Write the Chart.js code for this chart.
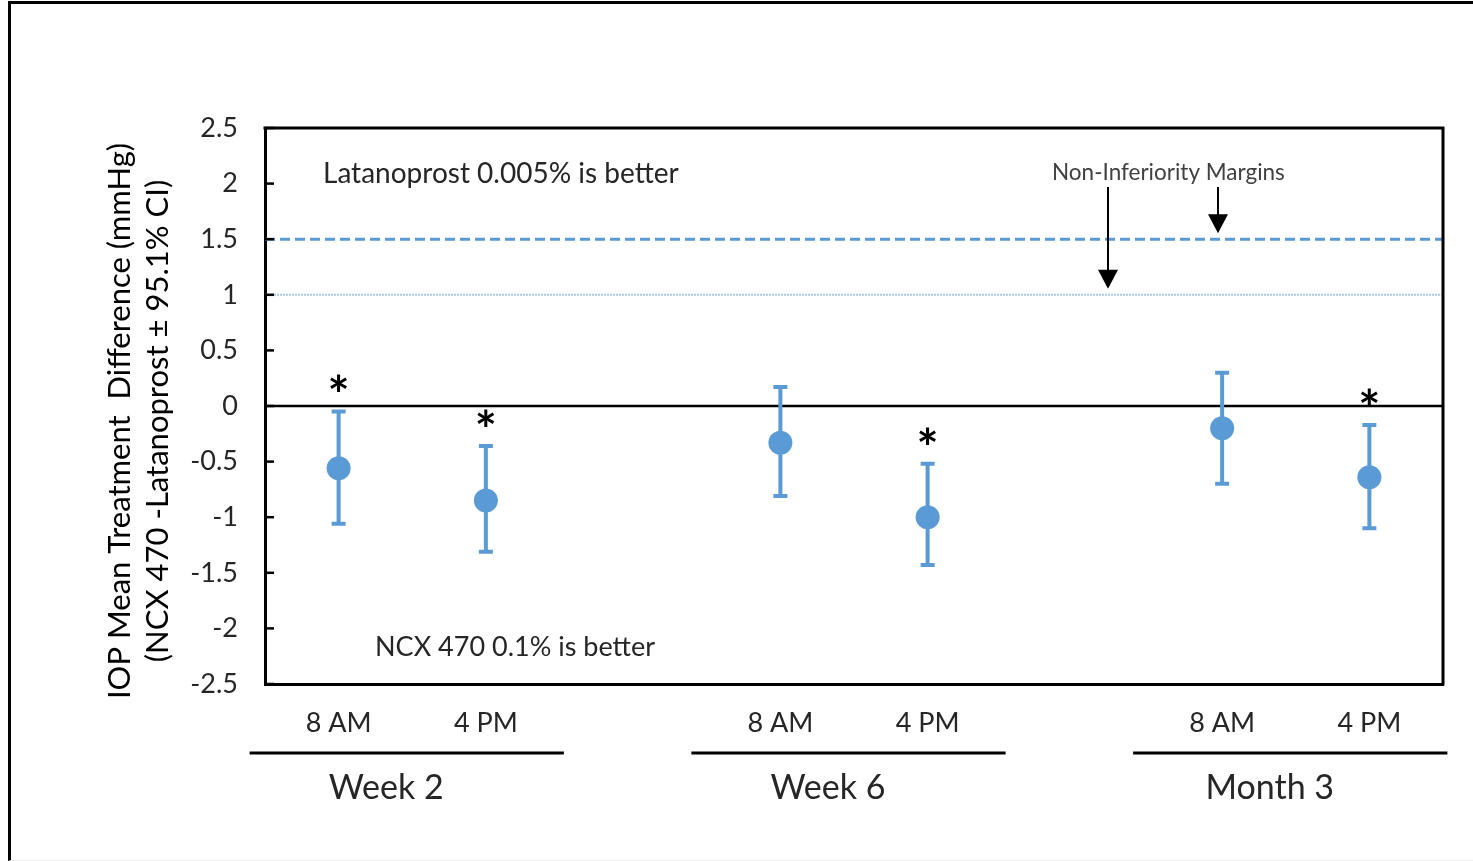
<!DOCTYPE html>
<html>
<head>
<meta charset="utf-8">
<script src="https://cdn.jsdelivr.net/npm/chart.js@4"></script>
<style>
    html, body { margin: 0; padding: 0; background: #fff; }
    .wrap { position: relative; width: 1473px; height: 861px; overflow: hidden; }
    .frame { position: absolute; left: 8px; top: 1px; right: -10px; bottom: 0; border-left: 3px solid #000; border-top: 3px solid #000; border-bottom: 1px solid #eee; pointer-events: none; }
    canvas { position: absolute; left: 0; top: 0; }
</style>
</head>
<body>
<div class="wrap">
    <canvas id="chart" width="1473" height="861"></canvas>
    <div class="frame"></div>
</div>
<script>
const categories = ['8 AM', '4 PM', '', '8 AM', '4 PM', '', '8 AM', '4 PM'];
const meanDiff = [-0.56, -0.85, null, -0.33, -1.00, null, -0.20, -0.64];
const ciUpper = [-0.05, -0.36, null, 0.17, -0.52, null, 0.30, -0.17];
const ciLower = [-1.06, -1.31, null, -0.81, -1.43, null, -0.70, -1.10];
const significant = [true, true, false, false, true, false, false, true];
const groupLabels = ['Week 2', 'Week 6', 'Month 3'];
const groupStart = [0, 3, 6];
const marginLines = [1.5, 1.0];
const yMin = -2.5, yMax = 2.5, yStep = 0.5;
const yTitle = ['IOP Mean Treatment  Difference (mmHg)', '(NCX 470 -Latanoprost \u00b1 95.1% CI)'];

const FONT = 'Lato, "Open Sans", sans-serif';
const BLUE = '#5B9BD5';
const TEXT = '#262626';

const overlay = {
    id: 'overlay',
    beforeDatasetsDraw(chart) {
        const { ctx, chartArea: a, scales: { x, y } } = chart;
        ctx.save();
        // non-inferiority margins
        ctx.lineWidth = 3;
        ctx.strokeStyle = BLUE;
        ctx.setLineDash([10, 5]);
        let py = y.getPixelForValue(marginLines[0]);
        ctx.beginPath(); ctx.moveTo(a.left, py); ctx.lineTo(a.right, py); ctx.stroke();
        ctx.lineWidth = 2;
        ctx.strokeStyle = '#A9CBEA';
        ctx.setLineDash([2, 1]);
        py = y.getPixelForValue(marginLines[1]);
        ctx.beginPath(); ctx.moveTo(a.left, py); ctx.lineTo(a.right, py); ctx.stroke();
        ctx.setLineDash([]);
        // zero line
        ctx.strokeStyle = '#000';
        ctx.lineWidth = 2.5;
        py = y.getPixelForValue(0);
        ctx.beginPath(); ctx.moveTo(a.left, py); ctx.lineTo(a.right, py); ctx.stroke();
        // error bars
        ctx.strokeStyle = BLUE;
        ctx.lineWidth = 4;
        meanDiff.forEach((v, i) => {
            if (v === null) return;
            const px = x.getPixelForValue(i);
            const top = y.getPixelForValue(ciUpper[i]);
            const bot = y.getPixelForValue(ciLower[i]);
            ctx.beginPath();
            ctx.moveTo(px, top); ctx.lineTo(px, bot);
            ctx.moveTo(px - 7, top); ctx.lineTo(px + 7, top);
            ctx.moveTo(px - 7, bot); ctx.lineTo(px + 7, bot);
            ctx.stroke();
        });
        ctx.restore();
    },
    afterDraw(chart) {
        const { ctx, chartArea: a, scales: { x, y } } = chart;
        ctx.save();
        // plot box top/right
        ctx.strokeStyle = '#000';
        ctx.lineWidth = 3;
        ctx.beginPath();
        ctx.moveTo(a.left - 1.5, a.top); ctx.lineTo(a.right, a.top); ctx.lineTo(a.right, a.bottom + 1.5);
        ctx.stroke();
        // inward ticks
        ctx.lineWidth = 2.5;
        for (let v = yMin; v <= yMax + 1e-9; v += yStep) {
            const py = y.getPixelForValue(v);
            ctx.beginPath(); ctx.moveTo(a.left, py); ctx.lineTo(a.left + 9, py); ctx.stroke();
        }
        // asterisks
        ctx.fillStyle = '#000';
        ctx.font = 'bold 52px ' + FONT;
        ctx.textAlign = 'center';
        ctx.textBaseline = 'middle';
        significant.forEach((s, i) => {
            if (!s) return;
            ctx.fillText('*', x.getPixelForValue(i), y.getPixelForValue(ciUpper[i]) - 14);
        });
        // annotations
        ctx.fillStyle = TEXT;
        ctx.textAlign = 'left';
        ctx.font = '28px ' + FONT;
        ctx.fillText('Latanoprost 0.005% is better', 323, 174);
        ctx.font = '27px ' + FONT;
        ctx.fillText('NCX 470 0.1% is better', 375, 647);
        ctx.fillStyle = '#404040';
        ctx.font = '22.5px ' + FONT;
        ctx.fillText('Non-Inferiority Margins', 1052, 173);
        // arrows to margins
        const arrows = [[1108, marginLines[1]], [1218, marginLines[0]]];
        ctx.strokeStyle = '#000';
        ctx.fillStyle = '#000';
        ctx.lineWidth = 2;
        arrows.forEach(([ax, v]) => {
            const tip = y.getPixelForValue(v) - 6;
            ctx.beginPath(); ctx.moveTo(ax, 187); ctx.lineTo(ax, tip - 16); ctx.stroke();
            ctx.beginPath();
            ctx.moveTo(ax - 10, tip - 19); ctx.lineTo(ax + 10, tip - 19); ctx.lineTo(ax, tip);
            ctx.closePath(); ctx.fill();
        });
        // group lines and labels
        ctx.lineWidth = 3;
        ctx.fillStyle = TEXT;
        ctx.font = '34px ' + FONT;
        ctx.textAlign = 'center';
        groupLabels.forEach((g, k) => {
            const x0 = x.getPixelForValue(groupStart[k]);
            const x1 = x.getPixelForValue(groupStart[k] + 1);
            ctx.beginPath(); ctx.moveTo(x0 - 89, 753); ctx.lineTo(x1 + 78, 753); ctx.stroke();
            ctx.fillText(g, (x0 + x1) / 2 - 26, 788);
        });
        // y title
        ctx.font = '31px ' + FONT;
        ctx.fillStyle = '#000';
        [[120, yTitle[0]], [158, yTitle[1]]].forEach(([tx, t]) => {
            ctx.save();
            ctx.translate(tx, 421);
            ctx.rotate(-Math.PI / 2);
            ctx.fillText(t, 0, 0);
            ctx.restore();
        });
        ctx.restore();
    }
};

new Chart(document.getElementById('chart'), {
    type: 'line',
    data: {
        labels: categories,
        datasets: [{
            data: meanDiff,
            showLine: false,
            pointRadius: 12,
            pointHoverRadius: 12,
            pointBackgroundColor: BLUE,
            pointBorderColor: BLUE,
            pointBorderWidth: 0,
        }],
    },
    options: {
        responsive: false,
        animation: false,
        layout: { padding: { left: 0, top: 128, right: 30, bottom: 0 } },
        plugins: { legend: { display: false }, tooltip: { enabled: false } },
        scales: {
            x: {
                type: 'category',
                offset: true,
                grid: { display: false, drawTicks: false },
                border: { display: true, color: '#000', width: 3 },
                ticks: { autoSkip: false, maxRotation: 0, padding: 23, color: TEXT, font: { family: FONT, size: 27 } },
                afterFit: (s) => { s.height = 177; },
            },
            y: {
                min: yMin,
                max: yMax,
                grid: { display: false, drawTicks: false },
                border: { display: true, color: '#000', width: 3 },
                ticks: { stepSize: yStep, padding: 27, color: TEXT, font: { family: FONT, size: 27 }, callback: (v) => String(v) },
                afterFit: (s) => { s.width = 265; },
            },
        },
    },
    plugins: [overlay],
});
</script>
</body>
</html>
